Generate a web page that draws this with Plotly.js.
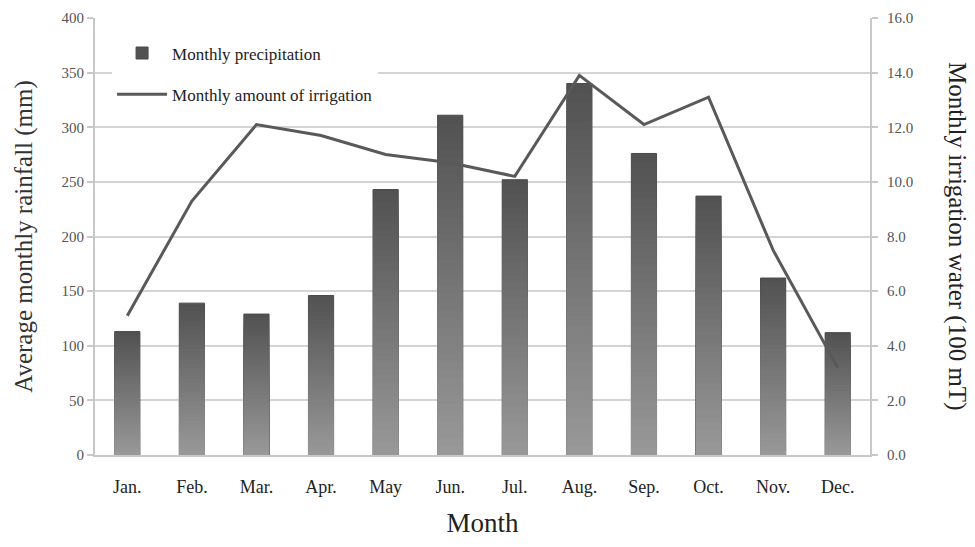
<!DOCTYPE html>
<html>
<head>
<meta charset="utf-8">
<script src="https://cdn.plot.ly/plotly-3.0.1.min.js"></script>
<style>html,body{margin:0;padding:0;background:#fff;}#chart{width:975px;height:547px;}</style>
</head>
<body>
<div id="chart"></div>
<script>
const months = ["Jan.", "Feb.", "Mar.", "Apr.", "May", "Jun.", "Jul.", "Aug.", "Sep.", "Oct.", "Nov.", "Dec."];
const precipitation = [113, 139, 129, 146, 243, 311, 252, 340, 276, 237, 162, 112];
const irrigation = [5.1, 9.3, 12.1, 11.7, 11.0, 10.7, 10.2, 13.9, 12.1, 13.1, 7.5, 3.2];
const leftTicks = [0, 50, 100, 150, 200, 250, 300, 350, 400];
const rightTicks = [0, 2, 4, 6, 8, 10, 12, 14, 16];

const FONT = "Liberation Serif";
const traces = [];
// vertical gradient for bars: overlay bars of decreasing height, light at bottom, dark at top
const N = 40;
const dark = 82, light = 152;
for (let k = N; k >= 1; k--) {
  const t = (k - 1) / (N - 1);
  const c = Math.round(light + (dark - light) * t);
  traces.push({
    type: "bar",
    x: months,
    y: precipitation.map(v => v * k / N),
    name: "Monthly precipitation",
    legendgroup: "a",
    showlegend: k === N,
    marker: {
      color: `rgb(${c},${c},${c})`,
      line: {color: k === N ? "#4a4a4a" : "rgba(0,0,0,0)", width: k === N ? 1 : 0}
    },
    width: 0.39,
    hoverinfo: k === N ? "y" : "skip",
    yaxis: "y"
  });
}
traces.push({
  type: "scatter",
  mode: "lines",
  x: months,
  y: irrigation,
  name: "Monthly amount of irrigation",
  legendgroup: "b",
  line: {color: "#595959", width: 3},
  yaxis: "y2"
});

const layout = {
  width: 975,
  height: 547,
  margin: {l: 95, r: 105, t: 18, b: 92},
  paper_bgcolor: "#ffffff",
  plot_bgcolor: "#ffffff",
  barmode: "overlay",
  font: {family: FONT, color: "#333"},
  showlegend: true,
  legend: {
    x: 0.022, y: 0.96, xanchor: "left", yanchor: "top",
    bgcolor: "#ffffff",
    font: {family: FONT, size: 17, color: "#222"},
    tracegroupgap: 16,
    itemwidth: 50
  },
  xaxis: {
    type: "category",
    showgrid: false,
    showline: true,
    linecolor: "#c8c8c8",
    linewidth: 2,
    ticks: "",
    ticklabelstandoff: 14,
    tickfont: {family: FONT, size: 18, color: "#222"},
    title: {text: "Month", font: {family: FONT, size: 27, color: "#222"}, standoff: 18},
    fixedrange: true
  },
  yaxis: {
    range: [0, 400],
    tickvals: leftTicks,
    ticktext: leftTicks.map(String),
    showgrid: true,
    gridcolor: "#d4d4d4",
    gridwidth: 2,
    showline: true,
    linecolor: "#c8c8c8",
    linewidth: 2,
    ticks: "outside",
    ticklen: 6,
    tickcolor: "#c8c8c8",
    tickwidth: 2,
    zeroline: false,
    tickfont: {family: FONT, size: 15, color: "#555"},
    title: {text: "Average monthly rainfall (mm)", font: {family: FONT, size: 25, color: "#333"}, standoff: 22}
  },
  yaxis2: {
    range: [0, 16],
    tickvals: rightTicks,
    ticktext: rightTicks.map(v => v.toFixed(1)),
    overlaying: "y",
    side: "right",
    showgrid: false,
    showline: true,
    linecolor: "#c8c8c8",
    linewidth: 2,
    ticks: "outside",
    ticklen: 6,
    tickcolor: "#c8c8c8",
    tickwidth: 2,
    ticklabelstandoff: 6,
    zeroline: false,
    tickfont: {family: FONT, size: 15, color: "#555"}
  },
  annotations: [{
    text: "Monthly irrigation water (100 mT)",
    xref: "paper", yref: "paper",
    x: 1.113, y: 0.5,
    xanchor: "center", yanchor: "middle",
    textangle: 90,
    showarrow: false,
    font: {family: FONT, size: 25, color: "#222"}
  }]
};

Plotly.newPlot("chart", traces, layout, {displayModeBar: false, staticPlot: true});
</script>
</body>
</html>
